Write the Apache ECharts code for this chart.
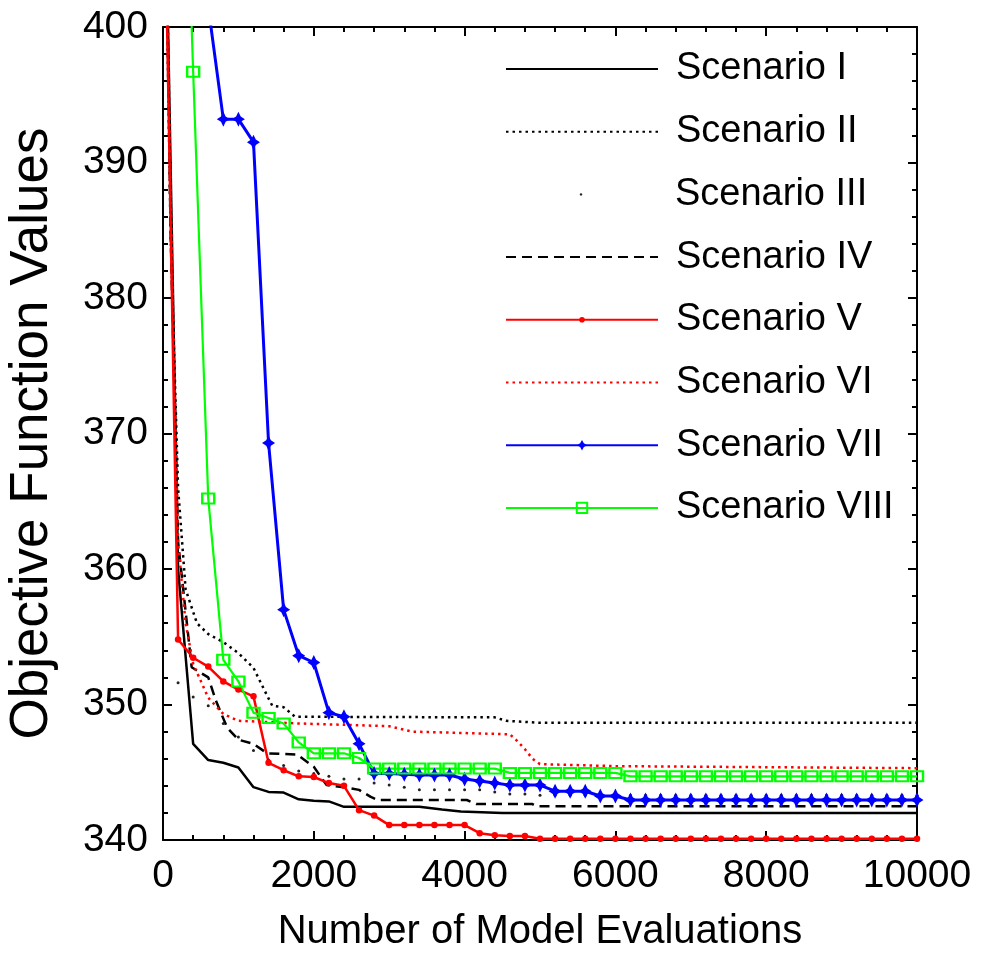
<!DOCTYPE html>
<html>
<head>
<meta charset="utf-8">
<script src="https://cdn.jsdelivr.net/npm/echarts@6/dist/echarts.min.js"></script>
<style>
html,body{margin:0;padding:0;background:#fff}
#chart{width:982px;height:954px}
</style>
</head>
<body>
<div id="chart"></div>
<script>
// evaluation counts where the marked scenarios were sampled
const evals = [0,200,400,600,800,1000,1200,1400,1600,1800,2000,2200,2400,2600,2800,3000,3200,3400,3600,3800,4000,
  4200,4400,4600,4800,5000,5200,5400,5600,5800,6000,6200,6400,6600,6800,7000,7200,7400,7600,7800,8000,
  8200,8400,8600,8800,9000,9200,9400,9600,9800,10000];

// scenarios drawn as plain lines: x / y pairs
const s1x = [0,200,400,600,800,1000,1200,1400,1600,1800,2000,2200,2400,2800,3400,3700,3950,4500,10000];
const s1y = [420,360,347.1,345.9,345.7,345.35,343.9,343.55,343.5,343.0,342.9,342.85,342.45,342.45,342.45,342.25,342.1,342.0,342.0];
const s2x = [0,100,200,300,450,600,800,1000,1200,1350,1450,1600,1750,4400,4550,5000,10000];
const s2y = [420,385,366,358.5,356,355.2,354.6,353.8,352.7,351.0,349.9,349.8,349.1,349.05,348.8,348.65,348.65];
const s4x = [0,100,200,380,600,700,850,1000,1200,1380,1780,2000,2170,2400,2600,2750,2850,4030,4160,4900,4950,10000];
const s4y = [425,385,362,352.75,352.0,350.3,348.3,347.4,347.1,346.4,346.3,345.4,344.05,343.9,343.7,343.2,342.95,342.95,342.65,342.65,342.5,342.5];
const s6x = [0,100,200,300,400,600,800,1000,1800,3000,3300,4600,4700,4800,4900,5000,6000,10000];
const s6y = [425,388,362,356,353,350.5,349.3,348.8,348.6,348.4,348.0,347.8,347.3,346.7,346.0,345.6,345.45,345.3];

// scenarios with markers, one value per entry of evals
const s3 = [null,351.6,350.55,349.9,348.6,347.6,346.6,345.9,345.5,345.1,344.9,344.7,344.5,344.5,344.2,344.05,343.9,
  343.7,343.7,343.7,343.7,343.7,343.55,343.4,343.4,
  343.3,343.3,343.3,343.3,343.3,343.3,343.3,343.3,343.3,343.3,343.3,343.3,343.3,
  343.3,343.3,343.3,343.3,343.3,343.3,343.3,343.3,343.3,343.3,343.3,343.3,343.3];
const s5 = [417,354.8,353.45,352.8,351.7,351.1,350.6,345.7,345.15,344.7,344.65,344.2,344.0,342.2,341.8,
  341.1,341.1,341.1,341.1,341.1,341.1,340.5,340.35,340.3,340.3,
  340.1,340.1,340.1,340.1,340.1,340.1,340.1,340.1,340.1,340.1,340.1,340.1,340.1,
  340.1,340.1,340.1,340.1,340.1,340.1,340.1,340.1,340.1,340.1,340.1,340.1,340.1];
const s7 = [null,null,null,401.5,393.2,393.2,391.5,369.3,357.0,353.6,353.1,349.4,349.1,347.1,344.9,344.9,
  344.85,344.8,344.8,344.8,344.5,344.35,344.2,344.05,344.05,344.05,343.6,343.6,343.6,343.25,343.25,
  342.95,342.95,342.95,342.95,342.95,342.95,342.95,342.95,342.95,342.95,
  342.95,342.95,342.95,342.95,342.95,342.95,342.95,342.95,342.95,342.95];
const s8 = [null,430,396.7,365.2,353.3,351.7,349.4,349.0,348.6,347.2,346.4,346.4,346.4,346.05,
  345.27,345.27,345.27,345.27,345.27,345.27,345.27,345.27,345.27,
  344.95,344.95,344.95,344.95,344.95,344.95,344.95,344.95,
  344.7,344.7,344.7,344.7,344.7,344.7,344.7,344.7,344.7,344.7,
  344.7,344.7,344.7,344.7,344.7,344.7,344.7,344.7,344.7,344.7];

const names = ['Scenario I','Scenario II','Scenario III','Scenario IV','Scenario V','Scenario VI','Scenario VII','Scenario VIII'];

const font = "'Liberation Sans', Arial, sans-serif";
const pairs = (xs, ys) => xs.map((x, i) => [x, ys[i]]);
const onEvals = ys => evals.map((x, i) => [x, ys[i]]);

const star = 'path://M5,0L6.8,3.2L10,5L6.8,6.8L5,10L3.2,6.8L0,5L3.2,3.2Z';

const series = [
  {name: names[0], data: pairs(s1x, s1y), symbol: 'none', lineStyle: {color: '#000', width: 2.5}},
  {name: names[1], data: pairs(s2x, s2y), symbol: 'none', lineStyle: {color: '#000', width: 2.5, type: [2.5, 4]}},
  {name: names[2], data: onEvals(s3), symbol: 'circle', symbolSize: 3, itemStyle: {color: '#222'}, lineStyle: {width: 0}},
  {name: names[3], data: pairs(s4x, s4y), symbol: 'none', lineStyle: {color: '#000', width: 2.5, type: [10, 6]}},
  {name: names[4], data: onEvals(s5), symbol: 'circle', symbolSize: 6.5, itemStyle: {color: '#ff0000'}, lineStyle: {color: '#ff0000', width: 2.5}},
  {name: names[5], data: pairs(s6x, s6y), symbol: 'none', lineStyle: {color: '#ff0000', width: 2.5, type: [2.5, 4]}},
  {name: names[6], data: onEvals(s7), symbol: star, symbolSize: [13, 15], itemStyle: {color: '#0000ff'}, lineStyle: {color: '#0000ff', width: 3}},
  {name: names[7], data: onEvals(s8), symbol: 'rect', symbolSize: [12, 10],
    itemStyle: {color: 'rgba(0,255,0,0)', borderColor: '#00ff00', borderWidth: 2.2}, lineStyle: {color: '#00ff00', width: 2.2}}
].map(s => Object.assign({type: 'line', showSymbol: s.symbol !== 'none', animation: false, clip: true}, s));

// one legend per row so each sample can have its own marker size
const markerH = [14, 14, 3, 14, 7, 14, 13, 13];
const legends = names.map((n, i) => ({
  data: [{name: n, itemStyle: series[i].symbol === 'none' ? {opacity: 0} : undefined}],
  orient: 'vertical', left: 505, top: 49 + i * 62.7, padding: 0,
  itemWidth: 152, itemHeight: markerH[i], selectedMode: false,
  textStyle: {fontSize: 38, fontFamily: font, color: '#000', lineHeight: 40, padding: [0, 0, 0, 13]}
}));

const axisLine = {show: true, onZero: false, lineStyle: {color: '#000', width: 2}};
const tick = {show: true, inside: true, length: 9, lineStyle: {color: '#000', width: 2}};
const minor = n => ({show: true, splitNumber: n, length: 5, lineStyle: {color: '#000', width: 2}});
const label = m => ({fontSize: 39, fontFamily: font, color: '#000', margin: m, formatter: v => String(v)});

const option = {
  backgroundColor: '#fff',
  animation: false,
  grid: {left: 163, right: 65, top: 27, bottom: 114, containLabel: false, outerBoundsMode: 'none'},
  legend: legends,
  xAxis: [
    {type: 'value', min: 0, max: 10000, interval: 2000, position: 'bottom',
      axisLine, axisTick: tick, minorTick: minor(5), splitLine: {show: false}, minorSplitLine: {show: false},
      axisLabel: label(17),
      name: 'Number of Model Evaluations', nameLocation: 'middle', nameGap: 72,
      nameTextStyle: {fontSize: 40, fontFamily: font, color: '#000'}},
    {type: 'value', min: 0, max: 10000, interval: 2000, position: 'top',
      axisLine, axisTick: tick, minorTick: minor(5), splitLine: {show: false}, axisLabel: {show: false}}
  ],
  yAxis: [
    {type: 'value', min: 340, max: 400, interval: 10, position: 'left',
      axisLine, axisTick: tick, minorTick: minor(5), splitLine: {show: false}, minorSplitLine: {show: false},
      axisLabel: label(15),
      name: 'Objective Function Values', nameLocation: 'middle', nameGap: 104,
      nameTextStyle: {fontSize: 53, fontFamily: font, color: '#000'}},
    {type: 'value', min: 340, max: 400, interval: 10, position: 'right',
      axisLine, axisTick: tick, minorTick: minor(5), splitLine: {show: false}, axisLabel: {show: false}}
  ],
  series
};

const chart = echarts.init(document.getElementById('chart'), null, {renderer: 'canvas'});
chart.setOption(option);
</script>
</body>
</html>
